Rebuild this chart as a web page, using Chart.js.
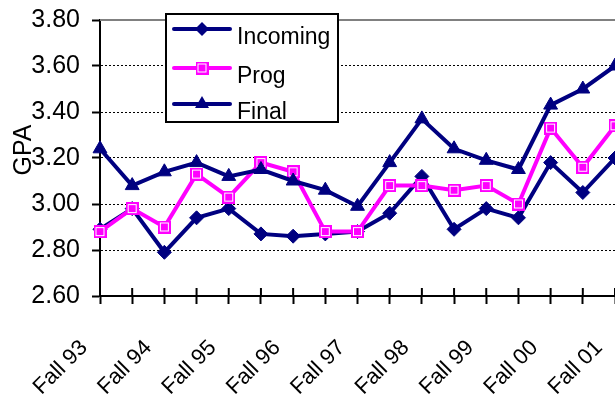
<!DOCTYPE html>
<html><head><meta charset="utf-8">
<script src="https://cdn.jsdelivr.net/npm/chart.js@4.4.1/dist/chart.umd.min.js"></script>
<style>html,body{margin:0;padding:0;background:#fff;}#wrap{width:615px;height:395px;position:relative;}</style>
</head><body><div id="wrap"><canvas id="c" width="615" height="395"></canvas></div>
<script>
// ---- data ----
const tickLabels = ['Fall 93','','Fall 94','','Fall 95','','Fall 96','','Fall 97','','Fall 98','','Fall 99','','Fall 00','','Fall 01'];
const seriesNames = ['Incoming','Prog','Final'];
const incoming = [2.89,2.98,2.79,2.94,2.98,2.87,2.86,2.87,2.88,2.96,3.12,2.89,2.98,2.94,3.18,3.05,3.20];
const prog     = [2.88,2.98,2.90,3.13,3.03,3.18,3.14,2.88,2.88,3.08,3.08,3.06,3.08,3.00,3.33,3.16,3.34];
const finalGPA = [3.24,3.08,3.14,3.18,3.12,3.15,3.10,3.06,2.99,3.18,3.37,3.24,3.19,3.15,3.43,3.50,3.60];
const yTicks = [2.6,2.8,3.0,3.2,3.4,3.6,3.8];
const axisTitle = 'GPA';

const NAVY = '#000080', MAG = '#FF00FF';
const FONT = '"Liberation Sans", Arial, sans-serif';

function makeSquare(){
  const c = document.createElement('canvas'); c.width = 13; c.height = 13;
  const g = c.getContext('2d');
  g.fillStyle = MAG; g.fillRect(0,0,13,13);
  g.strokeStyle = '#fff'; g.lineWidth = 1; g.strokeRect(2.5,2.5,8,8);
  return c;
}
const sq = makeSquare();

const legendPlugin = {
  id: 'customLegend',
  afterDraw(chart){
    const ctx = chart.ctx;
    ctx.save();
    ctx.fillStyle = '#fff';
    ctx.fillRect(166,14,172,108);
    ctx.strokeStyle = '#000'; ctx.lineWidth = 2;
    ctx.strokeRect(166,14,172,108);
    const rows = [29,68,104];
    chart.data.datasets.forEach((ds,i)=>{
      const y = rows[i];
      ctx.strokeStyle = ds.borderColor; ctx.lineWidth = 4; ctx.lineCap='round';
      ctx.beginPath(); ctx.moveTo(174,y); ctx.lineTo(230,y); ctx.stroke();
      const x = 202;
      ctx.fillStyle = ds.borderColor;
      if (i===0){ ctx.beginPath(); ctx.moveTo(x-7,y); ctx.lineTo(x,y-7); ctx.lineTo(x+7,y); ctx.lineTo(x,y+7); ctx.closePath(); ctx.fill(); }
      else if (i===1){ ctx.drawImage(sq, x-6.5, y-6.5); }
      else { ctx.beginPath(); ctx.moveTo(x,y-8); ctx.lineTo(x+7,y+4); ctx.lineTo(x-7,y+4); ctx.closePath(); ctx.fill(); }
      ctx.fillStyle = '#000'; ctx.font = '23px '+FONT; ctx.textBaseline='alphabetic'; ctx.textAlign='left';
      ctx.fillText(ds.label, 237, y+15);
    });
    ctx.translate(31,150); ctx.rotate(-Math.PI/2);
    ctx.font = '25px '+FONT; ctx.textAlign='center'; ctx.textBaseline='alphabetic';
    ctx.fillStyle='#000'; ctx.fillText(axisTitle,0,0);
    ctx.restore();
  },
  beforeDatasetsDraw(chart){
    const ctx = chart.ctx, ys = chart.scales.y, xs = chart.scales.x, a = chart.chartArea;
    ctx.save();
    const yt = Math.round(ys.getPixelForValue(ys.max));
    ctx.strokeStyle = '#808080'; ctx.lineWidth = 2;
    ctx.beginPath(); ctx.moveTo(a.left, yt); ctx.lineTo(a.right, yt); ctx.stroke();
    ctx.strokeStyle = '#000'; ctx.lineWidth = 2;
    for (let i=0;i<xs.ticks.length;i++){
      const x = xs.getPixelForTick(i);
      ctx.beginPath(); ctx.moveTo(x, a.bottom-8); ctx.lineTo(x, a.bottom); ctx.stroke();
    }
    ctx.restore();
  }
};

new Chart(document.getElementById('c'), {
  type: 'line',
  data: {
    labels: tickLabels,
    datasets: [
      {label: seriesNames[0], data: incoming, borderColor: NAVY, backgroundColor: NAVY, borderWidth: 4,
       pointStyle: 'rectRot', pointRadius: 7, pointBorderWidth: 1, pointBackgroundColor: NAVY, pointBorderColor: NAVY, order: 3, tension: 0},
      {label: seriesNames[1], data: prog, borderColor: MAG, backgroundColor: MAG, borderWidth: 4,
       pointStyle: sq, pointRadius: 7, order: 2, tension: 0},
      {label: seriesNames[2], data: finalGPA, borderColor: NAVY, backgroundColor: NAVY, borderWidth: 4,
       pointStyle: 'triangle', pointRadius: 8, pointBorderWidth: 1, pointBackgroundColor: NAVY, pointBorderColor: NAVY, order: 1, tension: 0}
    ]
  },
  options: {
    responsive: false, animation: false, devicePixelRatio: 1,
    layout: {autoPadding: false, padding: {left: 0, right: 0, top: 20, bottom: 0}},
    plugins: {legend: {display: false}, tooltip: {enabled: false}, title: {display: false}},
    scales: {
      x: {
        type: 'category', offset: false,
        grid: {display: true, drawOnChartArea: false, drawTicks: true, tickLength: 8, tickColor: '#000', tickWidth: 2, color: '#000'},
        border: {display: true, color: '#000', width: 2},
        ticks: {autoSkip: false, maxRotation: 45, minRotation: 45, padding: 31, labelOffset: -16, color: '#000', font: {family: FONT, size: 22}},
        afterFit(s){ s.height = 99; s.paddingLeft = 0; s.paddingRight = 0; }
      },
      y: {
        min: 2.6, max: 3.8,
        afterBuildTicks(s){ s.ticks = yTicks.map(v=>({value:v})); },
        grid: {color: c => (c.tick && c.tick.value >= 3.79) ? 'rgba(0,0,0,0)' : '#000', lineWidth: 1,
               drawTicks: true, tickLength: 8, tickColor: '#000', tickWidth: 2},
        border: {display: true, color: '#000', width: 2, dash: [2,2]},
        ticks: {padding: 12, color: '#000', font: {family: FONT, size: 25}, callback: v => Number(v).toFixed(2)},
        afterFit(s){ s.width = 100; s.paddingTop = 0; s.paddingBottom = 0; }
      }
    }
  },
  plugins: [legendPlugin]
});
</script>
</body></html>
